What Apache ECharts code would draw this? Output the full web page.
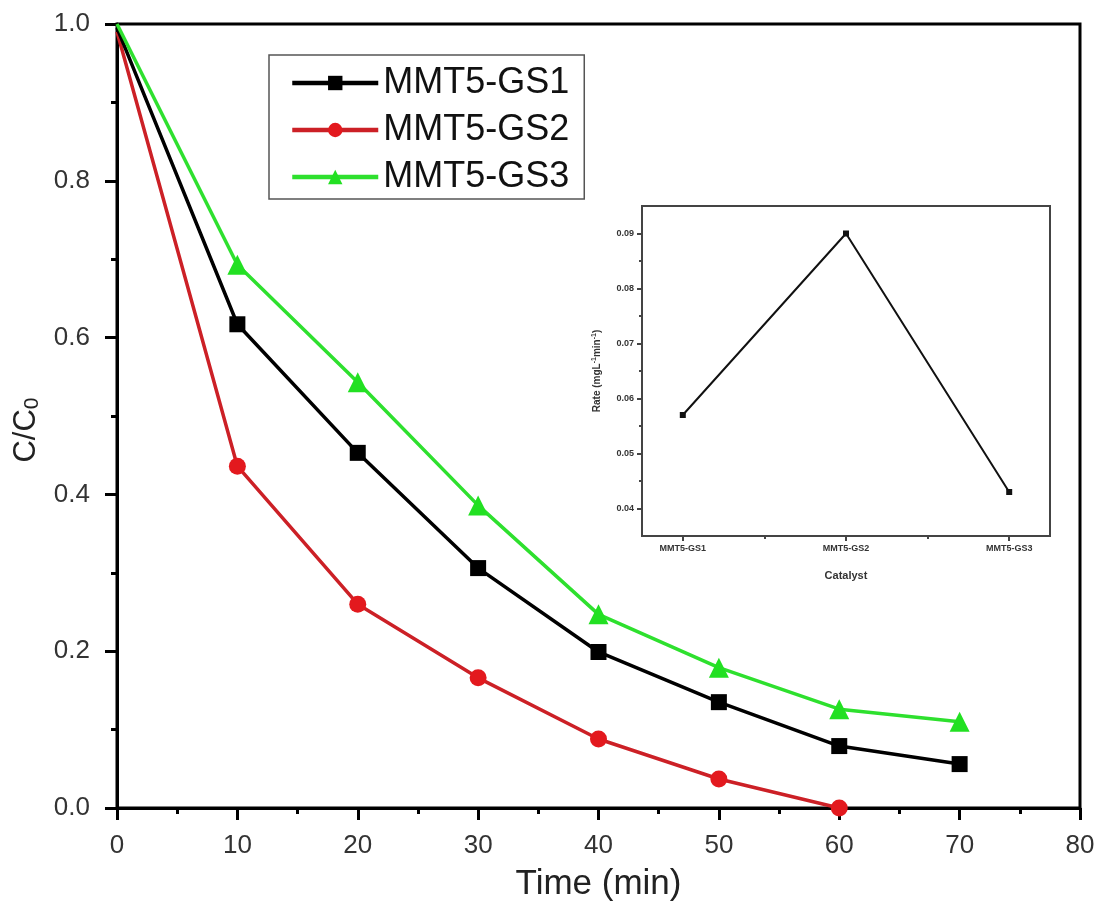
<!DOCTYPE html>
<html>
<head>
<meta charset="utf-8">
<script src="https://cdn.jsdelivr.net/npm/echarts@6/dist/echarts.min.js"></script>
<style>
  html, body { margin: 0; padding: 0; background: #fff; }
  #chart { width: 1103px; height: 922px; }
</style>
</head>
<body>
<div id="chart"></div>
<script>
// Degradation kinetics: C/C0 vs irradiation time
const times = [0, 10, 20, 30, 40, 50, 60, 70];
const gs1 = [0.995, 0.617, 0.453, 0.306, 0.199, 0.135, 0.079, 0.056];
const gs2 = [0.99, 0.436, 0.260, 0.166, 0.088, 0.037, 0.0];
const gs3 = [1.0, 0.693, 0.543, 0.386, 0.247, 0.179, 0.126, 0.110];
const seriesNames = ['MMT5-GS1', 'MMT5-GS2', 'MMT5-GS3'];

// Inset: rate constant per catalyst
const catalysts = ['MMT5-GS1', 'MMT5-GS2', 'MMT5-GS3'];
const rates = [0.057, 0.090, 0.043];
const rateTicks = [0.04, 0.05, 0.06, 0.07, 0.08, 0.09];
const rateMinorTicks = [0.045, 0.055, 0.065, 0.075, 0.085];

// the starting point (t = 0) is drawn without a marker
const pair = (xs, ys) => ys.map((v, i) => (i === 0 ? { value: [xs[i], v], symbol: 'none' } : [xs[i], v]));
const FONT = 'Liberation Sans';

const chart = echarts.init(document.getElementById('chart'), null, { renderer: 'canvas' });

const mainAxisLine = { lineStyle: { color: '#000', width: 3 } };

chart.setOption({
  backgroundColor: '#fff',
  animation: false,
  textStyle: { fontFamily: FONT },
  grid: [
    { left: 117, right: 23, top: 24, bottom: 114, show: true, borderColor: '#000', borderWidth: 3, backgroundColor: 'transparent' },
    { left: 642, right: 53, top: 206, bottom: 386, show: true, borderColor: '#444', borderWidth: 2, backgroundColor: '#fff', z: 5 }
  ],
  legend: {
    left: 269, top: 55, orient: 'vertical',
    itemWidth: 86, itemHeight: 18, itemGap: 11,
    padding: [10, 15, 4, 21],
    borderColor: '#555', borderWidth: 1.5,
    backgroundColor: '#fff',
    lineStyle: { width: 4.5 },
    textStyle: { fontFamily: FONT, fontSize: 36, lineHeight: 34, color: '#111' },
    data: seriesNames
  },
  xAxis: [
    {
      gridIndex: 0, type: 'value', min: 0, max: 80, interval: 10,
      name: 'Time (min)', nameLocation: 'middle', nameGap: 59,
      nameTextStyle: { fontFamily: FONT, fontSize: 35, color: '#222' },
      axisLine: mainAxisLine,
      axisTick: { length: 12, lineStyle: { color: '#000', width: 3 } },
      minorTick: { show: true, splitNumber: 2, length: 6, lineStyle: { color: '#000', width: 3 } },
      axisLabel: { fontFamily: FONT, fontSize: 26, color: '#333', margin: 25 },
      splitLine: { show: false }
    },
    {
      gridIndex: 1, type: 'value', min: 0.75, max: 3.25, position: 'bottom',
      name: 'Catalyst', nameLocation: 'middle', nameGap: 34,
      nameTextStyle: { fontFamily: FONT, fontSize: 11, fontWeight: 'bold', color: '#333' },
      axisLine: { lineStyle: { color: '#444', width: 2 } },
      axisTick: { customValues: [1, 2, 3], length: 5, lineStyle: { color: '#444', width: 2 } },
      axisLabel: {
        customValues: [1, 2, 3], fontFamily: FONT, fontSize: 9, fontWeight: 'bold', color: '#333', margin: 8,
        formatter: v => catalysts[Math.round(v) - 1] || ''
      },
      splitLine: { show: false }
    },
    {
      gridIndex: 1, type: 'value', min: 0.75, max: 3.25, position: 'bottom',
      axisLine: { show: false },
      axisTick: { customValues: [1.5, 2.5], length: 3, lineStyle: { color: '#444', width: 2 } },
      axisLabel: { show: false },
      splitLine: { show: false }
    }
  ],
  yAxis: [
    {
      gridIndex: 0, type: 'value', min: 0, max: 1.0, interval: 0.2,
      name: '{a|C/C}{b|0}', nameLocation: 'middle', nameGap: 67, nameRotate: 90,
      nameTextStyle: {
        padding: [0, 28, 0, 0],
        rich: {
          a: { fontFamily: FONT, fontSize: 31, color: '#222' },
          b: { fontFamily: FONT, fontSize: 21, color: '#222', verticalAlign: 'bottom', padding: [12, 0, 0, 0] }
        }
      },
      axisLine: mainAxisLine,
      axisTick: { length: 12, lineStyle: { color: '#000', width: 3 } },
      minorTick: { show: true, splitNumber: 2, length: 6, lineStyle: { color: '#000', width: 3 } },
      axisLabel: { fontFamily: FONT, fontSize: 26, color: '#333', margin: 27, formatter: v => v.toFixed(1) },
      splitLine: { show: false }
    },
    {
      gridIndex: 1, type: 'value', min: 0.035, max: 0.095,
      name: '{t|Rate (mgL}{s|-1}{t|min}{s|-1}{t|)}', nameLocation: 'middle', nameGap: 38, nameRotate: 90,
      nameTextStyle: {
        rich: {
          t: { fontFamily: FONT, fontSize: 10, fontWeight: 'bold', color: '#333' },
          s: { fontFamily: FONT, fontSize: 7, fontWeight: 'bold', color: '#333', verticalAlign: 'top', padding: [0, 0, 6, 0] }
        }
      },
      axisLine: { lineStyle: { color: '#444', width: 2 } },
      axisTick: { customValues: rateTicks, length: 5, lineStyle: { color: '#444', width: 2 } },
      axisLabel: { customValues: rateTicks, fontFamily: FONT, fontSize: 9, fontWeight: 'bold', color: '#333', margin: 8, formatter: v => v.toFixed(2) },
      splitLine: { show: false }
    },
    {
      gridIndex: 1, type: 'value', min: 0.035, max: 0.095, position: 'left',
      axisLine: { show: false },
      axisTick: { customValues: rateMinorTicks, length: 3, lineStyle: { color: '#444', width: 2 } },
      axisLabel: { show: false },
      splitLine: { show: false }
    }
  ],
  series: [
    {
      name: seriesNames[0], type: 'line', xAxisIndex: 0, yAxisIndex: 0,
      data: pair(times, gs1), symbol: 'rect', symbolSize: 16,
      lineStyle: { color: '#000', width: 3.5 }, itemStyle: { color: '#000' }, z: 3
    },
    {
      name: seriesNames[1], type: 'line', xAxisIndex: 0, yAxisIndex: 0,
      data: pair(times, gs2), symbol: 'circle', symbolSize: 17,
      lineStyle: { color: '#cc2026', width: 3.5 }, itemStyle: { color: '#e3191e' }, z: 2
    },
    {
      name: seriesNames[2], type: 'line', xAxisIndex: 0, yAxisIndex: 0,
      data: pair(times, gs3), symbol: 'triangle', symbolSize: 20,
      lineStyle: { color: '#2ee02e', width: 3.5 }, itemStyle: { color: '#22e022' }, z: 4
    },
    {
      name: 'Rate', type: 'line', xAxisIndex: 1, yAxisIndex: 1,
      data: rates.map((r, i) => [i + 1, r]), symbol: 'rect', symbolSize: 6,
      lineStyle: { color: '#111', width: 2 }, itemStyle: { color: '#111' }, z: 6
    }
  ]
});
</script>
</body>
</html>
